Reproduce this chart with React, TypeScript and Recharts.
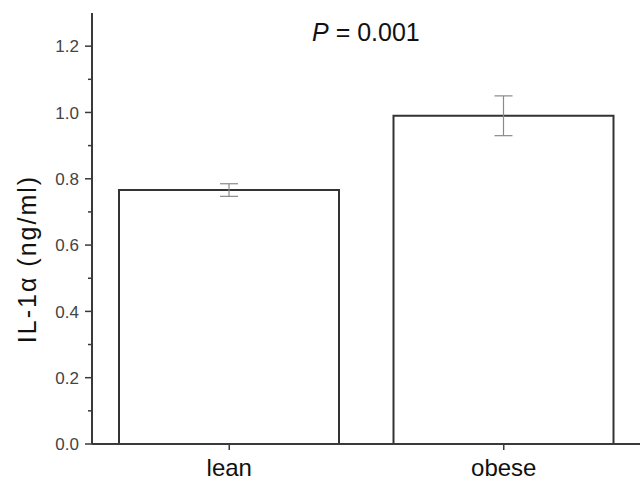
import React from "react";
import { BarChart, Bar, XAxis, YAxis, ErrorBar } from "recharts";

const categories = ["lean", "obese"];
const means = [0.766, 0.99];
const errors = [0.019, 0.06];
const yTicks = [0, 0.1, 0.2, 0.3, 0.4, 0.5, 0.6, 0.7, 0.8, 0.9, 1.0, 1.1, 1.2];
const yMajorLabels = ["0.0", "0.2", "0.4", "0.6", "0.8", "1.0", "1.2"];
const yLabel = "IL-1α (ng/ml)";
const pValueText = "0.001";

const data = categories.map((c, i) => ({ name: c, value: means[i], err: errors[i] }));

const FONT = "'Liberation Sans', Arial, sans-serif";
const AXIS = "#3a3a3a";

const YTick = (props: any) => {
  const { x, y, payload } = props;
  const v = Number(payload.value);
  const label = v.toFixed(1);
  const major = yMajorLabels.includes(label);
  return (
    <g>
      <line x1={x - (major ? 7 : 4)} x2={x} y1={y} y2={y} stroke={AXIS} strokeWidth={1.5} />
      {major && (
        <text x={x - 13} y={y} dy="0.36em" textAnchor="end" fontFamily={FONT} fontSize={17} fill="#444">
          {label}
        </text>
      )}
    </g>
  );
};

const XTick = (props: any) => {
  const { x, payload } = props;
  return (
    <g>
      <line x1={x} x2={x} y1={444} y2={450} stroke={AXIS} strokeWidth={1.5} />
      <text x={x} y={476} textAnchor="middle" fontFamily={FONT} fontSize={24} fill="#111">
        {payload.value}
      </text>
    </g>
  );
};

export default function App() {
  return (
    <div style={{ position: "absolute", left: 0, top: 0, width: 640, height: 482, overflow: "hidden", background: "#fff" }}>
      <BarChart width={641} height={482} data={data} margin={{ top: 13, right: 0, bottom: 0, left: 0 }} barCategoryGap={0}>
        <XAxis
          dataKey="name"
          height={38}
          axisLine={{ stroke: AXIS, strokeWidth: 2 }}
          tickLine={false}
          tick={<XTick />}
          interval={0}
        />
        <YAxis
          width={92}
          domain={[0, 1.3]}
          ticks={yTicks}
          interval={0}
          allowDataOverflow
          axisLine={{ stroke: AXIS, strokeWidth: 2 }}
          tickLine={false}
          tickSize={0}
          tickMargin={0}
          tick={<YTick />}
          label={{
            content: () => (
              <text
                x={36}
                y={259}
                transform="rotate(-90 36 259)"
                textAnchor="middle"
                fontFamily={FONT}
                fontSize={25}
                letterSpacing={2}
                fill="#111"
              >
                {yLabel}
              </text>
            ),
          }}
        />
        <Bar dataKey="value" barSize={220} fill="#fff" stroke="#333" strokeWidth={2} isAnimationActive={false}>
          <ErrorBar dataKey="err" width={9} stroke="#8a8a8a" strokeWidth={1.2} />
        </Bar>
      </BarChart>
      <div
        style={{
          position: "absolute",
          left: 312,
          top: 17,
          fontFamily: FONT,
          fontSize: 25,
          color: "#111",
          whiteSpace: "nowrap",
          lineHeight: "30px",
        }}
      >
        <i>P</i> = {pValueText}
      </div>
    </div>
  );
}
